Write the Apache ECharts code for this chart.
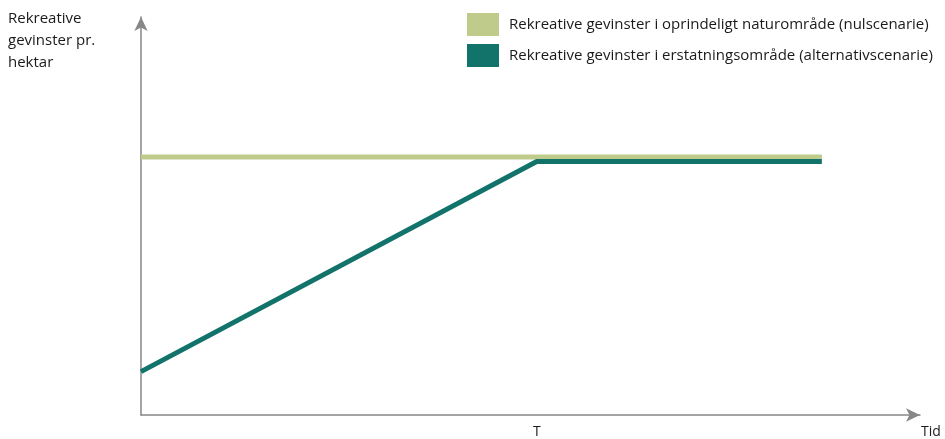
<!DOCTYPE html>
<html><head><meta charset="utf-8">
<script src="https://cdn.jsdelivr.net/npm/echarts@6/dist/echarts.min.js"></script>
<style>html,body{margin:0;padding:0;background:#fff}#c{width:945px;height:439px}</style>
</head><body><div id="c"></div>
<script>
const seriesNames = ['Rekreative gevinster i oprindeligt naturområde (nulscenarie)',
                     'Rekreative gevinster i erstatningsområde (alternativscenarie)'];
const nulX = [0, 87.4];
const nulY = [64.8, 64.8];
const altX = [0, 50.8, 87.4];
const altY = [10.9, 63.7, 63.7];
const tickT = 50.8;
const xLabel = 'T';
const xName = 'Tid';
const yName = 'Rekreative\ngevinster pr.\nhektar';

const chart = echarts.init(document.getElementById('c'));
const font = 'Open Sans';
chart.setOption({
  animation: false,
  grid: {left: 141, right: 25, top: 17, bottom: 20},
  legend: {
    orient: 'vertical', left: 467, top: 13, padding: 0, itemWidth: 32, itemHeight: 23, itemGap: 8,
    icon: 'rect',
    textStyle: {fontFamily: font, fontSize: 15, color: '#1a1a1a', padding: [0,0,0,5]},
    data: seriesNames
  },
  xAxis: {
    type: 'value', min: 0, max: 100,
    axisLine: {show: true, symbol: ['none', 'arrow'], symbolSize: [10, 14], lineStyle: {color: '#878787', width: 1.5}},
    axisTick: {show: false}, splitLine: {show: false},
    axisLabel: {customValues: [tickT], formatter: () => xLabel, fontFamily: font, fontSize: 14, color: '#1a1a1a', margin: 10},
    name: xName, nameLocation: 'end', nameGap: 0,
    nameTextStyle: {fontFamily: font, fontSize: 14, color: '#1a1a1a', align: 'left', verticalAlign: 'top', padding: [10, 0, 0, 1]}
  },
  yAxis: {
    type: 'value', min: 0, max: 100,
    axisLine: {show: true, symbol: ['none', 'arrow'], symbolSize: [10, 14], lineStyle: {color: '#878787', width: 1.5}},
    axisTick: {show: false}, splitLine: {show: false}, axisLabel: {show: false},
    name: yName, nameLocation: 'end', nameGap: 0,
    nameTextStyle: {fontFamily: font, fontSize: 15, color: '#1a1a1a', align: 'left', verticalAlign: 'top', lineHeight: 22, padding: [-9, 0, 0, -133]}
  },
  series: [
    {name: seriesNames[0], type: 'line', data: nulX.map((x,i)=>[x, nulY[i]]), symbol: 'none',
     lineStyle: {color: '#BFCB8B', width: 5}, itemStyle: {color: '#BFCB8B'}, z: 2},
    {name: seriesNames[1], type: 'line', data: altX.map((x,i)=>[x, altY[i]]), symbol: 'none',
     lineStyle: {color: '#12736B', width: 5}, itemStyle: {color: '#12736B'}, z: 3}
  ]
});
</script></body></html>
